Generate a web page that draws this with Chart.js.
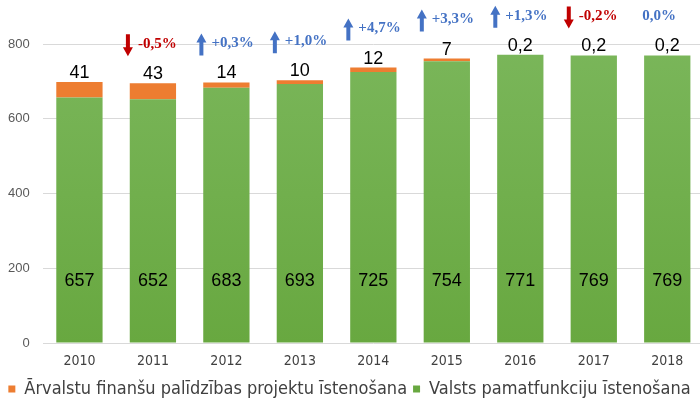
<!DOCTYPE html>
<html>
<head>
<meta charset="utf-8">
<script src="https://cdn.jsdelivr.net/npm/chart.js@4"></script>
<style>
  html, body { margin: 0; padding: 0; background: #fff; overflow: hidden; }
  #wrap { width: 704px; height: 401px; position: relative; }
</style>
</head>
<body>
<div id="wrap"><canvas id="chart"></canvas></div>
<script>
// Chart data
const years = ['2010', '2011', '2012', '2013', '2014', '2015', '2016', '2017', '2018'];
const coreFunctions = [657, 652, 683, 693, 725, 754, 771, 769, 769];
const foreignProjects = [41, 43, 14, 10, 12, 7, 0.2, 0.2, 0.2];
const changes = ['', '-0,5%', '+0,3%', '+1,0%', '+4,7%', '+3,3%', '+1,3%', '-0,2%', '0,0%'];
const yTicks = [0, 200, 400, 600, 800];

const green = '#70AD47';
const orange = '#ED7D31';
const red = '#C00000';
const blue = '#4472C4';
const condensed = '"DejaVu Sans Condensed", "DejaVu Sans", sans-serif';

const fmt = v => String(v).replace('.', ',');

// value labels + change arrows
const labelsPlugin = {
  id: 'labels',
  afterDatasetsDraw(chart) {
    const ctx = chart.ctx;
    const y = chart.scales.y;
    const base = y.getPixelForValue(0);
    const greenMeta = chart.getDatasetMeta(0);
    const orangeMeta = chart.getDatasetMeta(1);
    ctx.save();
    ctx.textAlign = 'center';
    ctx.textBaseline = 'middle';
    ctx.fillStyle = '#000';
    ctx.font = '18px "Liberation Sans", Arial, sans-serif';
    greenMeta.data.forEach((bar, i) => {
      ctx.fillText(fmt(coreFunctions[i]), bar.x, base - 62);
    });
    orangeMeta.data.forEach((bar, i) => {
      ctx.fillText(fmt(foreignProjects[i]), bar.x, bar.y - 9);
    });

    // annotations
    ctx.font = 'bold 15px "Liberation Serif", "Times New Roman", serif';
    ctx.textAlign = 'left';
    orangeMeta.data.forEach((bar, i) => {
      const txt = changes[i];
      if (!txt) return;
      const cy = bar.y - 39;
      const down = txt[0] === '-';
      const up = txt[0] === '+';
      ctx.fillStyle = down ? red : blue;
      if (up || down) {
        const ax = bar.x - 25;
        const top = cy - 10, bot = cy + 12;
        ctx.beginPath();
        if (up) {
          ctx.moveTo(ax, top);
          ctx.lineTo(ax + 5, top + 9);
          ctx.lineTo(ax + 2, top + 9);
          ctx.lineTo(ax + 2, bot);
          ctx.lineTo(ax - 2, bot);
          ctx.lineTo(ax - 2, top + 9);
          ctx.lineTo(ax - 5, top + 9);
        } else {
          ctx.moveTo(ax, bot);
          ctx.lineTo(ax + 5, bot - 9);
          ctx.lineTo(ax + 2, bot - 9);
          ctx.lineTo(ax + 2, top);
          ctx.lineTo(ax - 2, top);
          ctx.lineTo(ax - 2, bot - 9);
          ctx.lineTo(ax - 5, bot - 9);
        }
        ctx.closePath();
        ctx.fill();
        ctx.fillText(txt, bar.x - 15, cy);
      } else {
        ctx.fillText(txt, bar.x - 25, cy);
      }
    });
    ctx.restore();
  }
};

function greenFill(c) {
  const ca = c.chart.chartArea;
  if (!ca) return green;
  const g = c.chart.ctx.createLinearGradient(0, ca.top, 0, ca.bottom);
  g.addColorStop(0, '#7AB65A');
  g.addColorStop(1, '#68A840');
  return g;
}

new Chart(document.getElementById('chart'), {
  type: 'bar',
  data: {
    labels: years,
    datasets: [
      {
        label: 'Valsts pamatfunkciju īstenošana',
        data: coreFunctions,
        backgroundColor: greenFill,
        borderWidth: 0,
        categoryPercentage: 1,
        barPercentage: 0.63
      },
      {
        label: 'Ārvalstu finanšu palīdzības projektu īstenošana',
        data: foreignProjects,
        backgroundColor: orange,
        borderWidth: 0,
        categoryPercentage: 1,
        barPercentage: 0.63
      }
    ]
  },
  options: {
    responsive: true,
    maintainAspectRatio: false,
    animation: false,
    layout: { padding: { top: 44, left: -5, right: 0, bottom: -7 } },
    plugins: {
      legend: {
        position: 'bottom',
        reverse: true,
        labels: {
          boxWidth: 7,
          boxHeight: 7,
          padding: 6,
          color: '#404040',
          font: { family: condensed, size: 18 }
        }
      },
      tooltip: { enabled: false }
    },
    scales: {
      x: {
        stacked: true,
        afterFit: axis => { axis.height = 31; },
        grid: { display: false },
        border: { display: false },
        ticks: {
          color: '#404040',
          padding: 2,
          font: { family: condensed, size: 14 }
        }
      },
      y: {
        stacked: true,
        min: 0,
        max: 800,
        afterBuildTicks: axis => { axis.ticks = yTicks.map(v => ({ value: v })); },
        grid: { color: '#D9D9D9', drawTicks: false },
        border: { display: false },
        ticks: {
          color: '#595959',
          padding: 13,
          font: { family: '"Liberation Sans", Arial, sans-serif', size: 13 }
        }
      }
    }
  },
  plugins: [labelsPlugin]
});
</script>
</body>
</html>
